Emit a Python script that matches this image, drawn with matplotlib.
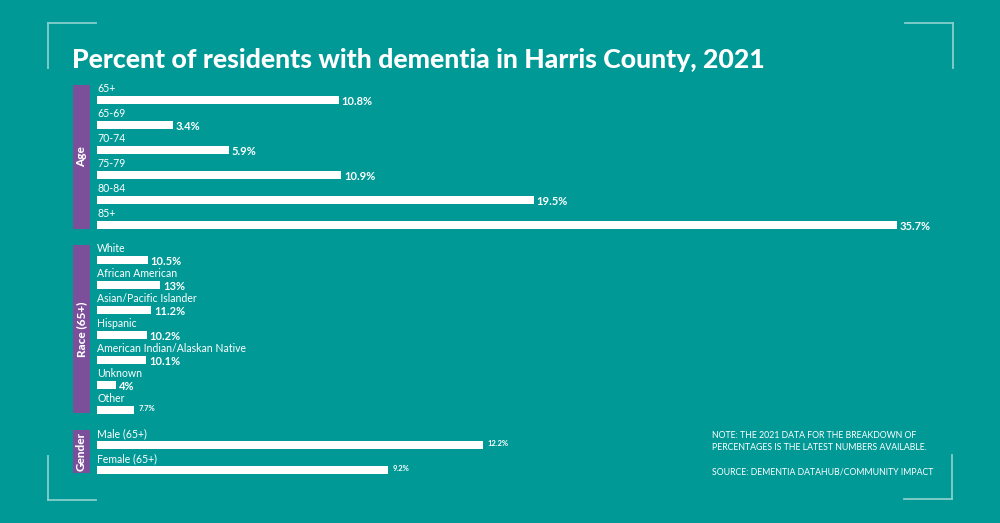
import matplotlib
matplotlib.use("Agg")
import matplotlib.pyplot as plt
from matplotlib.patches import Rectangle
from matplotlib.lines import Line2D

# ---------------- data ----------------
title = "Percent of residents with dementia in Harris County, 2021"
group_names = ["Age", "Race (65+)", "Gender"]

age_labels = ["65+", "65-69", "70-74", "75-79", "80-84", "85+"]
age_values = [10.8, 3.4, 5.9, 10.9, 19.5, 35.7]

race_labels = ["White", "African American", "Asian/Pacific Islander", "Hispanic",
               "American Indian/Alaskan Native", "Unknown", "Other"]
race_values = [10.5, 13, 11.2, 10.2, 10.1, 4, 7.7]

gender_labels = ["Male (65+)", "Female (65+)"]
gender_values = [12.2, 9.2]

note_lines = ["NOTE: THE 2021 DATA FOR THE BREAKDOWN OF",
              "PERCENTAGES IS THE LATEST NUMBERS AVAILABLE."]
source_line = "SOURCE: DEMENTIA DATAHUB/COMMUNITY IMPACT"

# ---------------- style / layout ----------------
W, H = 1000, 523
BG = "#009996"
PURPLE = "#7c4f9a"
BRACKET = "#86cfcd"
WHITE = "white"
FONT = "Lato"

plt.rcParams["font.family"] = [FONT, "DejaVu Sans"]

fig = plt.figure(figsize=(W / 100, H / 100), dpi=100, facecolor=BG)

def fx(x):
    return x / W

def fy(y):
    return 1 - y / H

# corner brackets
def bracket(xc, yc, dx, dy):
    fig.add_artist(Line2D([fx(xc), fx(xc + dx)], [fy(yc), fy(yc)],
                          transform=fig.transFigure, color=BRACKET, lw=1.3))
    fig.add_artist(Line2D([fx(xc), fx(xc)], [fy(yc), fy(yc + dy)],
                          transform=fig.transFigure, color=BRACKET, lw=1.3))

bracket(48, 23, 48, 45)
bracket(953, 23, -48, 45)
bracket(48, 500, 48, -44)
bracket(952, 499, -48, -44)

# title
fig.text(fx(72), fy(60), title, color=WHITE, fontsize=19.2, fontweight="black",
         ha="left", va="center")

# groups: (labels, values, first row center px, px per percent, purple top, purple bottom, small value labels)
groups = [
    (age_labels, age_values, 100, 22.4, 85, 229, []),
    (race_labels, race_values, 260, 4.86, 245, 413, [6]),
    (gender_labels, gender_values, 445, 31.65, 430, 473, [0, 1]),
]

ROW = 25.0
BAR_LEFT_PX = 97
BAR_RIGHT_PX = 960
BAR_H = 8.0

for gname, (labels, values, c0, scale, ptop, pbot, small) in zip(group_names, groups):
    n = len(labels)
    top_px = c0 - ROW
    height_px = (n + 0.5) * ROW
    ax = fig.add_axes([fx(BAR_LEFT_PX), fy(top_px + height_px),
                       fx(BAR_RIGHT_PX - BAR_LEFT_PX), height_px / H])
    ax.set_facecolor("none")
    ax.set_xlim(0, (BAR_RIGHT_PX - BAR_LEFT_PX) / scale)
    ax.set_ylim(n - 0.5, -1)
    ax.axis("off")
    ys = list(range(n))
    ax.barh(ys, values, height=BAR_H / ROW, color=WHITE, left=0)
    for i, (lab, v) in enumerate(zip(labels, values)):
        ax.text(0, i - 0.45, lab, color=WHITE, fontsize=7.6, ha="left", va="center")
        txt = f"{v:g}%"
        if i in small:
            ax.annotate(txt, (v, i), xytext=(3, 1), textcoords="offset points",
                        color=WHITE, fontsize=5.5, fontweight="bold",
                        ha="left", va="center")
        else:
            ax.annotate(txt, (v, i + 0.05), xytext=(2, 0), textcoords="offset points",
                        color=WHITE, fontsize=8, fontweight="bold",
                        ha="left", va="center")
    # purple group band
    fig.add_artist(Rectangle((fx(73), fy(pbot)), fx(17), (pbot - ptop) / H,
                             transform=fig.transFigure, color=PURPLE, lw=0))
    fig.text(fx(81.5), fy((ptop + pbot) / 2), gname, color=WHITE, fontsize=8.5,
             fontweight="black", rotation=90, ha="center", va="center")

# notes
fig.text(fx(712), fy(436), note_lines[0], color=WHITE, fontsize=6.3, ha="left", va="center")
fig.text(fx(712), fy(447.5), note_lines[1], color=WHITE, fontsize=6.3, ha="left", va="center")
fig.text(fx(712), fy(472), source_line, color=WHITE, fontsize=6.3, ha="left", va="center")

fig.savefig("out.png", dpi=100, facecolor=BG)
